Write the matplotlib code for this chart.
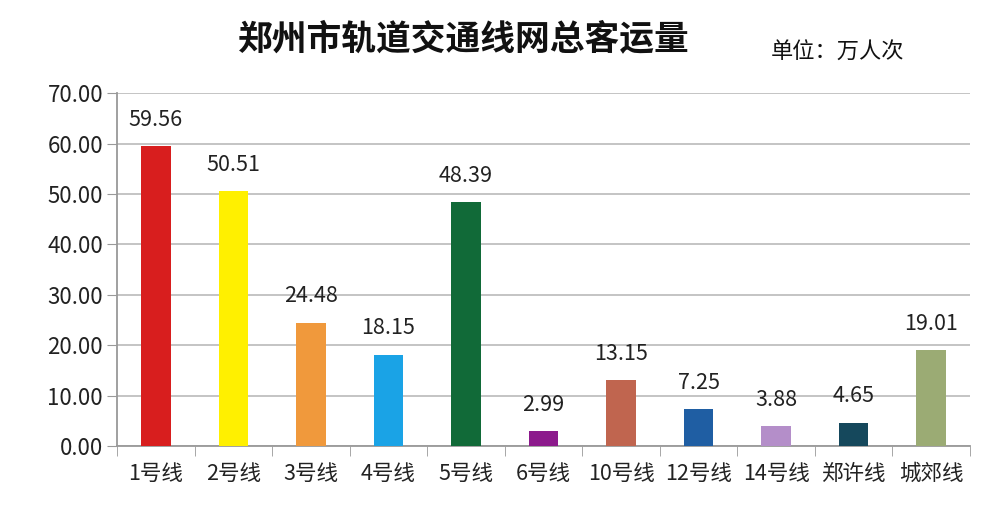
import numpy as np
import matplotlib.pyplot as plt

plt.rcParams['font.family'] = ['Noto Sans CJK SC', 'DejaVu Sans']

lines = ['1号线', '2号线', '3号线', '4号线', '5号线', '6号线', '10号线', '12号线', '14号线', '郑许线', '城郊线']
ridership = [59.56, 50.51, 24.48, 18.15, 48.39, 2.99, 13.15, 7.25, 3.88, 4.65, 19.01]
colors = ['#d81e1e', '#fff000', '#f0993c', '#1aa3e6', '#116a38', '#8c1a8c',
          '#c0654f', '#1f5ea3', '#b48ec9', '#15485c', '#9bab74']

fig = plt.figure(figsize=(10, 5.22), dpi=100)
ax = fig.add_axes([0.117, 0.1456, 0.853, 0.676])

x = np.arange(len(lines))
bars = ax.bar(x, ridership, width=0.38, color=colors, zorder=3)
for b, v in zip(bars, ridership):
    ax.text(b.get_x() + b.get_width() / 2, v + 3.0, '%.2f' % v,
            ha='center', va='bottom', fontsize=15.5, color='#222222')

ax.set_xlim(-0.5, len(lines) - 0.5)
ax.set_ylim(0, 70)
ax.set_yticks(np.arange(0, 71, 10))
ax.set_yticklabels(['%.2f' % t for t in np.arange(0, 71, 10)], fontsize=16, color='#222222')
ax.set_xticks(x)
ax.set_xticklabels(lines, fontsize=15.5, color='#222222')
ax.set_xticks(np.arange(-0.5, len(lines), 1), minor=True)
ax.tick_params(axis='x', which='major', length=0, pad=12)
ax.tick_params(axis='x', which='minor', length=7, color='#999999')
ax.tick_params(axis='y', length=7, color='#999999', pad=3)
ax.grid(axis='y', color='#bfbfbf', linewidth=1.3, zorder=0)
for s in ['top', 'right']:
    ax.spines[s].set_visible(False)
for s in ['left', 'bottom']:
    ax.spines[s].set_color('#999999')
    ax.spines[s].set_linewidth(1.3)

fig.text(0.464, 0.925, '郑州市轨道交通线网总客运量', ha='center', va='center',
         fontsize=25, fontweight='bold', color='#111111')
fig.text(0.838, 0.9, '单位：万人次', ha='center', va='center', fontsize=16, color='#111111')

fig.savefig('out.png', dpi=100)
